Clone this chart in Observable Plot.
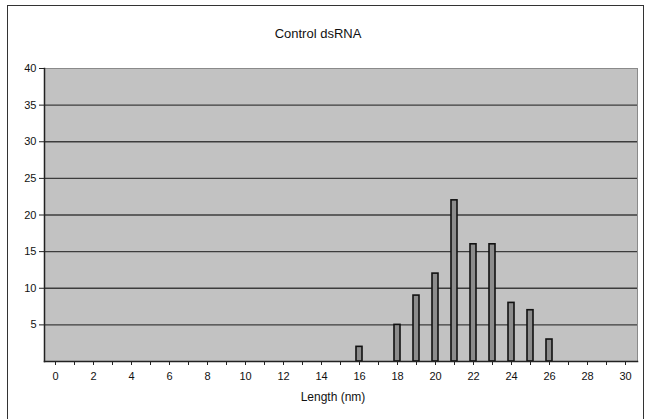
<!DOCTYPE html>
<html>
<head>
<meta charset="utf-8">
<script src="https://cdn.jsdelivr.net/npm/d3@7"></script>
<script src="https://cdn.jsdelivr.net/npm/@observablehq/plot@0.6"></script>
<style>
  html, body { margin: 0; padding: 0; background: #fff; }
  #wrap { position: relative; width: 647px; height: 419px; overflow: hidden; }
  #border { position: absolute; left: 7px; top: 5px; width: 637px; height: 430px; border: 1px solid #333; box-sizing: border-box; }
  #chart { position: absolute; left: 0; top: 0; }
</style>
</head>
<body>
<div id="wrap"><div id="border"></div><div id="chart"></div></div>
<script>
const title = "Control dsRNA";
const xTitle = "Length (nm)";
const categories = [0,1,2,3,4,5,6,7,8,9,10,11,12,13,14,15,16,17,18,19,20,21,22,23,24,25,26,27,28,29,30];
const lengths = [16, 18, 19, 20, 21, 22, 23, 24, 25, 26];
const counts  = [2, 5, 9, 12, 22, 16, 16, 8, 7, 3];
const yTicks = [5, 10, 15, 20, 25, 30, 35, 40];
const gridLines = [5, 10, 15, 20, 25, 30, 35];

const data = lengths.map((l, i) => ({len: l, count: counts[i]}));

const chart = Plot.plot({
  width: 647,
  height: 419,
  marginLeft: 44,
  marginRight: 10,
  marginTop: 68,
  marginBottom: 58,
  style: {fontFamily: "'Liberation Sans', Arial, sans-serif", fontSize: "11px", background: "transparent", color: "#111"},
  x: {type: "band", domain: categories, paddingInner: 0.68, paddingOuter: 0.34},
  y: {domain: [0, 40]},
  marks: [
    Plot.frame({fill: "#c2c2c2", stroke: "#8a8a8a"}),
    Plot.ruleY(gridLines, {stroke: "#3c3c3c", strokeWidth: 1.3}),
    Plot.barY(data, {x: "len", y: "count", fill: "#8c8c8c", stroke: "#111", strokeWidth: 1.6}),
    Plot.frame({anchor: "left", stroke: "#222", strokeWidth: 1.5}),
    Plot.frame({anchor: "bottom", stroke: "#222", strokeWidth: 1.5}),
    Plot.axisY({ticks: yTicks, tickSize: 5, tickPadding: 3, label: null, stroke: "#222"}),
    Plot.axisX({ticks: categories, tickSize: 4, tickPadding: 7, label: null, stroke: "#222",
      tickFormat: d => d % 2 === 0 ? String(d) : ""}),
    Plot.text([title], {frameAnchor: "top", dx: -23, dy: -40, fontSize: 13}),
    Plot.text([xTitle], {frameAnchor: "bottom", dx: -8, dy: 39, fontSize: 12})
  ]
});
document.getElementById("chart").appendChild(chart);
</script>
</body>
</html>
